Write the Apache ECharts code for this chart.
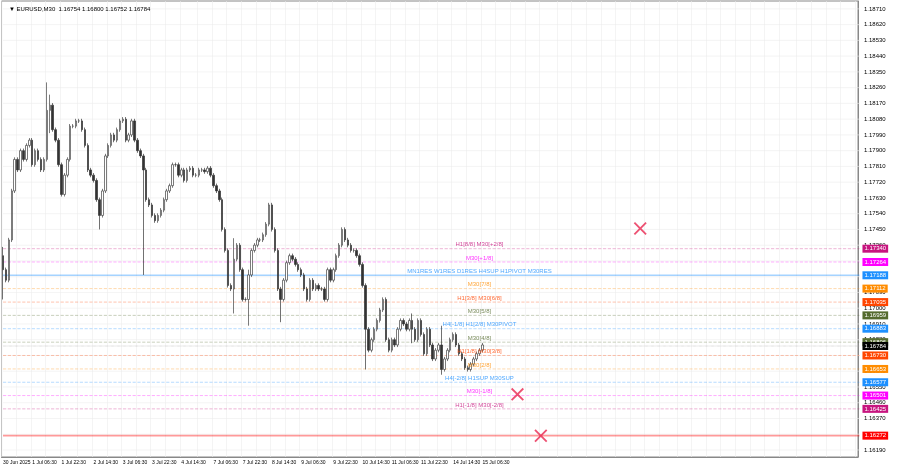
<!DOCTYPE html>
<html>
<head>
<meta charset="utf-8">
<script src="https://cdn.jsdelivr.net/npm/echarts@6/dist/echarts.min.js"></script>
<style>
html,body{margin:0;padding:0;background:#fff;}
#main{width:900px;height:469px;}
</style>
</head>
<body>
<div id="main"></div>
<script>
// close prices of the bars
var closes = [1.1722,1.1716,1.1739,1.1767,1.1785,1.1779,1.1790,1.1785,1.1793,1.1796,1.1782,1.1790,1.1785,1.1779,1.1785,1.1813,1.1816,1.1802,1.1796,1.1782,1.1765,1.1776,1.1785,1.1804,1.1804,1.1807,1.1807,1.1802,1.1793,1.1779,1.1776,1.1773,1.1762,1.1753,1.1767,1.1787,1.1793,1.1799,1.1796,1.1802,1.1807,1.1808,1.1796,1.1799,1.1807,1.1796,1.1790,1.1787,1.1779,
1.1762,1.1759,1.1753,1.1750,1.1753,1.1756,1.1762,1.1767,1.1770,1.1782,1.1782,1.1776,1.1779,1.1773,1.1779,1.1780,1.1776,1.1776,1.1779,1.1779,1.1778,1.1780,1.1776,1.1770,1.1767,1.1762,1.1745,1.1733,1.1713,1.1711,1.1728,1.1736,1.1722,1.1705,1.1705,1.1719,1.1733,1.1736,1.1739,1.1739,1.1742,1.1748,1.1759,1.1745,1.1733,1.1711,1.1705,1.1716,1.1726,1.1730,1.1728,1.1725,1.1722,1.1719,1.1711,1.1705,1.1716,1.1711,1.1713,1.1711,1.1711,1.1705,1.1722,1.1716,1.1722,1.1730,1.1736,1.1745,1.1739,1.1736,1.1733,1.1733,1.1730,1.1725,1.1713,1.1688,1.1676,1.1682,1.1688,1.1693,1.1699,1.1705,1.1682,1.1676,1.1682,1.1679,1.1688,1.1693,1.1691,1.1688,1.1693,1.1688,1.1682,1.1693,1.1685,1.1674,1.1688,1.1679,1.1671,1.1676,1.1679,1.1665,1.1671,1.1676,1.1682,1.1685,1.1679,1.1674,1.1671,1.1666,1.1665,1.1668,1.1671,1.1674,1.1676,1.1679];
var firstOpen = 1.1730;
// long wicks: [bar index, high, low]
var wicks = [[0,1.1735,1.1705],[15,1.1829,1.1808],[16,1.1822,1.1800],[48,1.1782,1.1719],[33,1.1756,1.1745],[79,1.1740,1.1697],[84,1.1722,1.1690],[95,1.1708,1.1692],[124,1.1690,1.1665],[140,1.1697,1.1680],[150,1.1690,1.1662]];
var dates = ['30 Jun 2025','1 Jul 06:30','1 Jul 22:30','2 Jul 14:30','3 Jul 06:30','3 Jul 22:30','4 Jul 14:30','7 Jul 06:30','7 Jul 22:30','8 Jul 14:30','9 Jul 06:30','9 Jul 22:30','10 Jul 14:30','11 Jul 06:30','11 Jul 22:30','14 Jul 14:30','15 Jul 06:30'];
var priceTicks = [1.18710,1.18620,1.18530,1.18440,1.18350,1.18260,1.18170,1.18080,1.17990,1.17900,1.17810,1.17720,1.17630,1.17540,1.17450,1.17360,1.17270,1.17180,1.17090,1.17000,1.16910,1.16820,1.16730,1.16640,1.16550,1.16460,1.16370,1.16280,1.16190];
// [price, colour, text, line type]
var levels = [
  [1.17340,'#c7157f','H1[8/8] M30[+2/8]','dashed'],
  [1.17264,'#ff00ff','M30[+1/8]','dashed'],
  [1.17188,'#1e90ff','MN1RES W1RES D1RES H4SUP H1PIVOT M30RES','solid'],
  [1.17112,'#ff8c00','M30[7/8]','dashed'],
  [1.17035,'#ff4500','H1[3/8] M30[6/8]','dashed'],
  [1.16959,'#556b2f','M30[5/8]','dashed'],
  [1.16883,'#1e90ff','H4[-1/8] H1[2/8] M30PIVOT','dashed'],
  [1.16806,'#556b2f','M30[4/8]','dashed'],
  [1.16730,'#ff4500','H1[1/8] M30[3/8]','dashed'],
  [1.16653,'#ff8c00','M30[2/8]','dashed'],
  [1.16577,'#1e90ff','H4[-2/8] H1SUP M30SUP','dashed'],
  [1.16501,'#ff00ff','M30[-1/8]','dashed'],
  [1.16425,'#c7157f','H1[-1/8] M30[-2/8]','dashed'],
  [1.16272,'#ff0000','','solid']
];
var lastPrice = 1.16784;
// crosses: [x position in bars, price]
var crosses = [[217.5,1.17455],[175.7,1.16508],[184,1.16271]];

var n = closes.length;
var plotW = 858, barsEnd = 483;
var total = Math.round(n * plotW / barsEnd);
var cats = [];
for (var i = 0; i < total; i++) cats.push('');
var per = n / 16.1;
dates.forEach(function (d, k) { var idx = Math.round(k * per); if (idx < total) cats[idx] = d; });
var vLines = {};
for (var k = 0; k * per / 2 < total; k++) vLines[Math.round(k * per / 2)] = true;

var ohlc = [];
for (var i = 0; i < n; i++) {
  var o = i === 0 ? firstOpen : closes[i - 1], c = closes[i];
  var hi = Math.max(o, c) + 0.00012, lo = Math.min(o, c) - 0.00012;
  ohlc.push([o, c, lo, hi]);
}
wicks.forEach(function (w) { if (ohlc[w[0]]) { ohlc[w[0]][3] = Math.max(ohlc[w[0]][3], w[1]); ohlc[w[0]][2] = Math.min(ohlc[w[0]][2], w[2]); } });

function hLine(p, style, tag) {
  return {
    type: 'line', silent: true, showSymbol: false, symbol: 'none', z: 1,
    data: [[-0.5, p], [total - 0.5, p]], lineStyle: style,
    endLabel: tag ? { show: true, formatter: p.toFixed(5), color: '#fff', backgroundColor: tag, fontSize: 6, padding: [1, 2], distance: 3, fontFamily: 'Liberation Sans' } : { show: false }
  };
}

var series = [];
priceTicks.forEach(function (p) { series.push(hLine(p, { color: '#ececec', width: 0.6 }, null)); });
levels.forEach(function (l) {
  series.push(hLine(l[0], { color: l[1], type: l[3], width: l[3] === 'solid' ? 1.6 : 0.8, opacity: 0.4 }, l[1]));
});
series.push(hLine(lastPrice, { color: '#aaa', type: 'dotted', width: 0.6 }, '#000'));
series.push({ type: 'candlestick', data: ohlc, barWidth: 2, z: 3,
  itemStyle: { color: '#ffffff', color0: '#333', borderColor: '#444', borderColor0: '#333', borderWidth: 0.7 } });
var labelIdx = 478 / plotW * total;
series.push({ type: 'scatter', symbolSize: 0, silent: true, z: 4,
  data: levels.map(function (l) { return { value: [labelIdx, l[0]], label: { show: l[2] !== '', formatter: l[2], color: l[1], position: 'top', distance: 1, fontSize: 6, fontFamily: 'Liberation Sans' } }; }) });
series.push({ type: 'scatter', silent: true, z: 5, symbol: 'path://M0,1L1,0L5,4L9,0L10,1L6,5L10,9L9,10L5,6L1,10L0,9L4,5Z', symbolSize: 13,
  itemStyle: { color: '#e8264f' }, data: crosses });

var myChart = echarts.init(document.getElementById('main'));
var option = {
  animation: false,
  title: { text: '▼ EURUSD,M30  1.16754 1.16800 1.16752 1.16784', left: 4, top: 1, textStyle: { fontSize: 6, fontWeight: 'normal', color: '#000', fontFamily: 'Liberation Sans' } },
  grid: { left: 1, right: 42, top: 1, bottom: 12, show: true, borderColor: '#888', borderWidth: 1 },
  xAxis: {
    type: 'category', data: cats, boundaryGap: true,
    axisLine: { lineStyle: { color: '#888' } }, axisTick: { show: false },
    axisLabel: { interval: 0, fontSize: 5, color: '#000', align: 'left', margin: 3, fontFamily: 'Liberation Sans' },
    splitLine: { show: true, interval: function (i) { return !!vLines[i]; }, lineStyle: { color: '#ececec', width: 0.6 } }
  },
  yAxis: {
    type: 'value', position: 'right', min: 1.16150, max: 1.18755, scale: true,
    axisLine: { show: true, lineStyle: { color: '#888' } },
    axisTick: { show: false },
    splitLine: { show: false },
    axisLabel: { customValues: priceTicks, formatter: function (v) { return v.toFixed(5); }, fontSize: 6, color: '#000', margin: 6, fontFamily: 'Liberation Sans' }
  },
  series: series
};
myChart.setOption(option);
</script>
</body>
</html>
